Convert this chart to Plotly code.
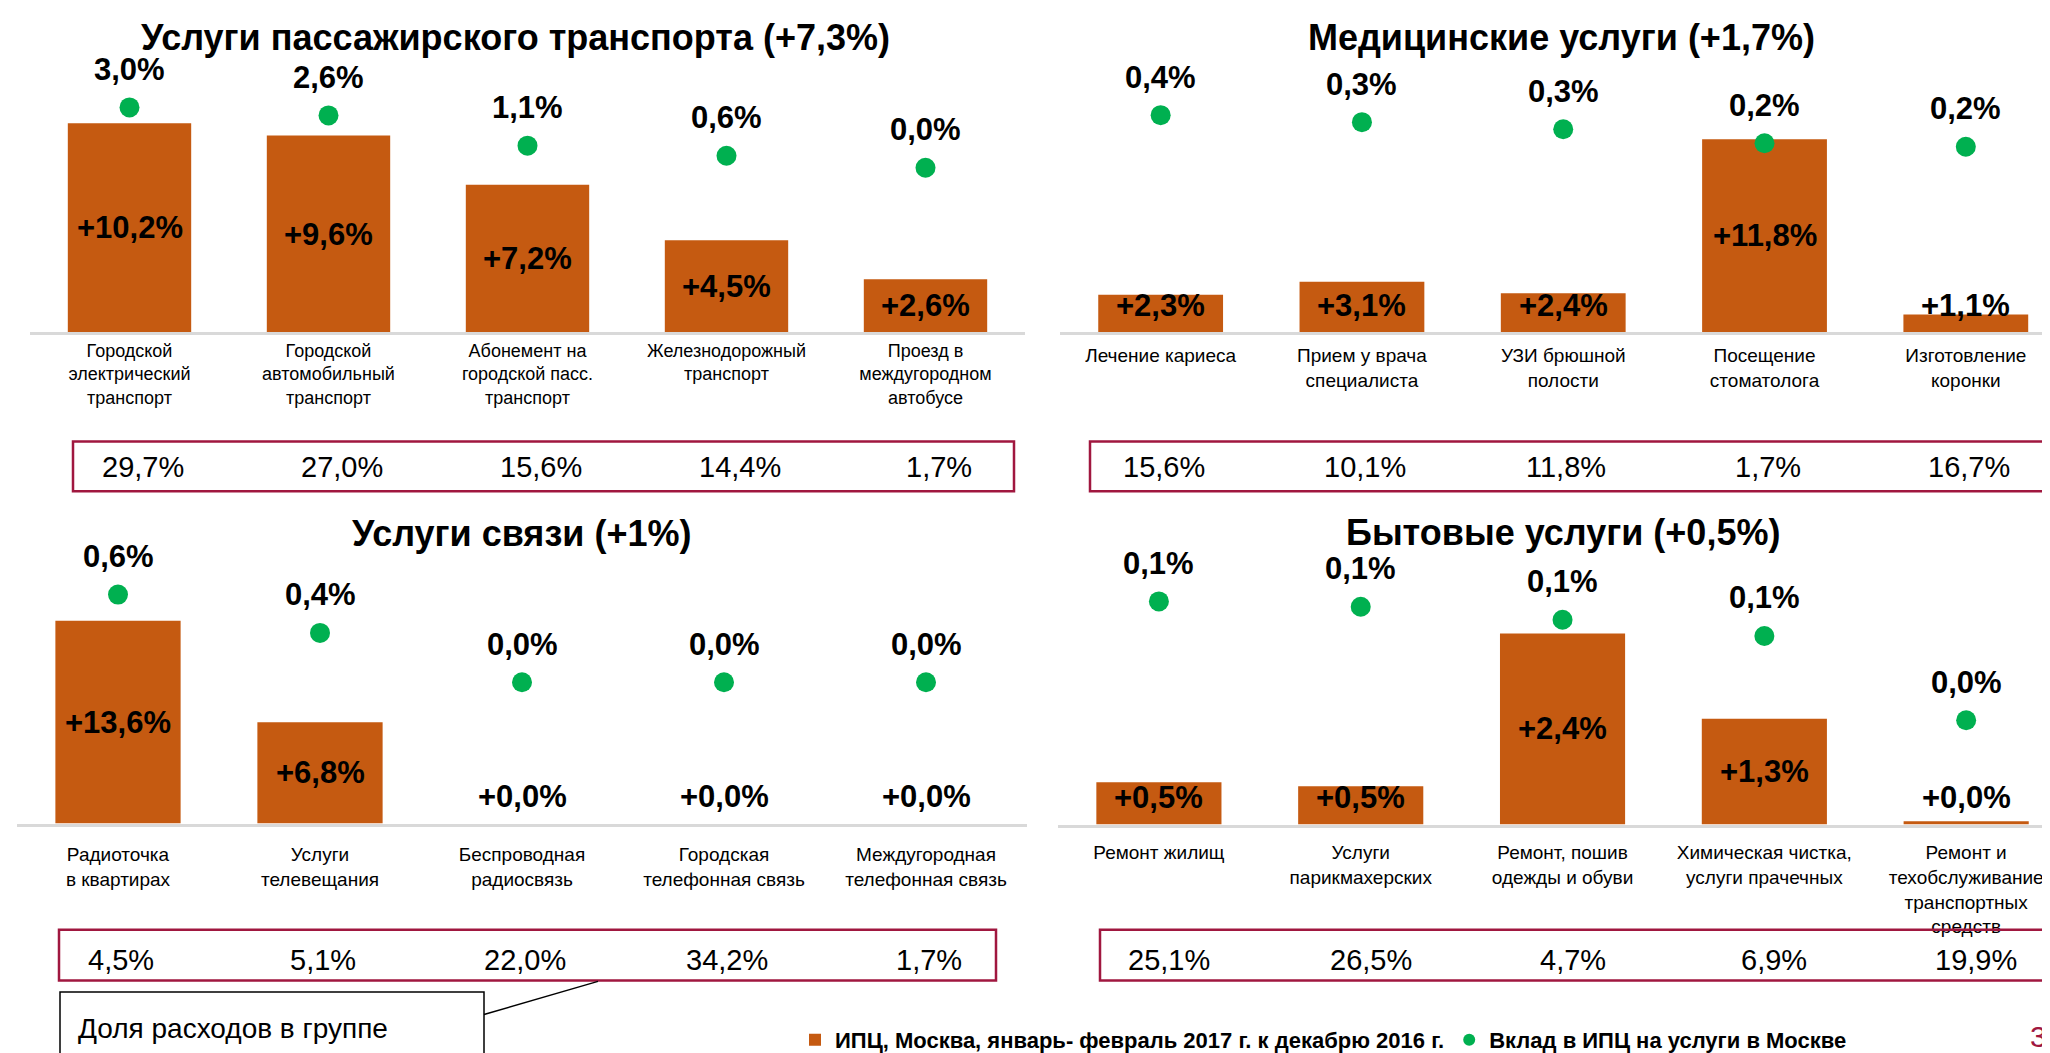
import plotly.graph_objects as go

# ---------------- data ----------------
transport_title = "Услуги пассажирского транспорта (+7,3%)"
transport_cats = ["Городской<br>электрический<br>транспорт", "Городской<br>автомобильный<br>транспорт",
                  "Абонемент на<br>городской пасс.<br>транспорт", "Железнодорожный<br>транспорт",
                  "Проезд в<br>междугородном<br>автобусе"]
transport_price = [10.2, 9.6, 7.2, 4.5, 2.6]
transport_contrib = [3.0, 2.6, 1.1, 0.6, 0.0]
transport_share = [29.7, 27.0, 15.6, 14.4, 1.7]

medical_title = "Медицинские услуги (+1,7%)"
medical_cats = ["Лечение кариеса", "Прием у врача<br>специалиста", "УЗИ брюшной<br>полости",
                "Посещение<br>стоматолога", "Изготовление<br>коронки"]
medical_price = [2.3, 3.1, 2.4, 11.8, 1.1]
medical_contrib = [0.38, 0.34, 0.30, 0.22, 0.20]
medical_share = [15.6, 10.1, 11.8, 1.7, 16.7]

comm_title = "Услуги связи (+1%)"
comm_cats = ["Радиоточка<br>в квартирах", "Услуги<br>телевещания", "Беспроводная<br>радиосвязь",
             "Городская<br>телефонная связь", "Междугородная<br>телефонная связь"]
comm_price = [13.6, 6.8, 0.0, 0.0, 0.0]
comm_contrib = [0.64, 0.36, 0.0, 0.0, 0.0]
comm_share = [4.5, 5.1, 22.0, 34.2, 1.7]

house_title = "Бытовые услуги (+0,5%)"
house_cats = ["Ремонт жилищ", "Услуги<br>парикмахерских", "Ремонт, пошив<br>одежды и обуви",
              "Химическая чистка,<br>услуги прачечных",
              "Ремонт и<br>техобслуживание<br>транспортных<br>средств"]
house_price = [0.53, 0.48, 2.4, 1.33, 0.04]
house_contrib = [0.12, 0.115, 0.103, 0.088, 0.01]
house_share = [25.1, 26.5, 4.7, 6.9, 19.9]

legend_bar = "ИПЦ, Москва, январь- февраль 2017 г. к декабрю 2016 г."
legend_dot = "Вклад в ИПЦ на услуги в Москве"
callout_text = "Доля расходов в группе"
page_number = "3"

# ---------------- style ----------------
W, H = 2050, 1053
FONT = "Liberation Sans, Arial, sans-serif"
BAR_COLOR = "#C55A11"
DOT_COLOR = "#00B050"
BOX_COLOR = "#A0173F"
AXIS_COLOR = "#D9D9D9"


def fx(x):
    return x / W


def fy(y):
    return 1 - y / H


def fmt(v, plus=False):
    s = f"{v:.1f}".replace(".", ",") + "%"
    return ("+" + s) if plus else s


panels = [
    dict(title=transport_title, cats=transport_cats, price=transport_price, contrib=transport_contrib,
         share=transport_share, x0=22, x1=1017, xr=[-0.5, 4.5], base=333, top=0, ppu=21.05,
         dref=(3.0, 102, 20.67), tfs=18, stand=0, title_xy=(507, 30), tsize=36,
         box=(65, 1006, 445, 496), share_dx=13, share_y=471),
    dict(title=medical_title, cats=medical_cats, price=medical_price, contrib=medical_contrib,
         share=medical_share, x0=1052, x1=2050, xr=[-0.5, 4.458], base=333, top=0, ppu=16.8,
         dref=(0.38, 110, 180.0), tfs=19, stand=4, title_xy=(1553, 30), tsize=36,
         box=(1082, 2040, 445, 496), share_dx=3, share_y=471),
    dict(title=comm_title, cats=comm_cats, price=comm_price, contrib=comm_contrib,
         share=comm_share, x0=9, x1=1019, xr=[-0.5, 4.5], base=837, top=500, ppu=15.3,
         dref=(0.0, 692, 140.6), tfs=19, stand=12, title_xy=(513, 539), tsize=36,
         box=(51, 988, 946, 998), share_dx=3, share_y=977),
    dict(title=house_title, cats=house_cats, price=house_price, contrib=house_contrib,
         share=house_share, x0=1050, x1=2050, xr=[-0.5, 4.455], base=838, top=500, ppu=81.7,
         dref=(0.12, 609, 1109.0), tfs=19, stand=9, title_xy=(1555, 538), tsize=36,
         box=(1092, 2046, 946, 998), share_dx=10, share_y=977),
]

fig = go.Figure()
annotations = []
shapes = []
layout_axes = {}

for p, P in enumerate(panels):
    xn = "" if p == 0 else str(p + 1)
    yb = "" if p == 0 else str(2 * p + 1)
    yd = str(2 * p + 2)
    xref = "x" + xn
    ybref = "y" + yb
    ydref = "y" + yd
    idx = list(range(len(P["cats"])))

    fig.add_trace(go.Bar(x=idx, y=P["price"], xaxis=xref, yaxis=ybref,
                         marker=dict(color=BAR_COLOR, line=dict(width=0)),
                         name=legend_bar, showlegend=(p == 0), hoverinfo="skip"))
    fig.add_trace(go.Scatter(x=idx, y=P["contrib"], xaxis=xref, yaxis=ydref, mode="markers",
                             marker=dict(color=DOT_COLOR, size=20),
                             name=legend_dot, showlegend=(p == 0), hoverinfo="skip"))

    span = P["base"] - P["top"]
    bar_range = [0, span / P["ppu"]]
    v_ref, y_ref, k = P["dref"]
    dot_range = [v_ref - (P["base"] - y_ref) / k, v_ref + (y_ref - P["top"]) / k]
    ydom = [fy(P["base"]), fy(P["top"])]

    layout_axes["xaxis" + xn] = dict(domain=[fx(P["x0"]), fx(P["x1"])], range=P["xr"], anchor=ybref,
                                     tickmode="array", tickvals=idx, ticktext=P["cats"],
                                     tickfont=dict(family=FONT, size=P["tfs"], color="#000000"),
                                     ticklabelstandoff=P["stand"],
                                     showline=True, linecolor=AXIS_COLOR, linewidth=3,
                                     showgrid=False, zeroline=False, ticks="", fixedrange=True)
    layout_axes["yaxis" + yb] = dict(domain=ydom, range=bar_range, anchor=xref, visible=False,
                                     showgrid=False, zeroline=False)
    layout_axes["yaxis" + yd] = dict(domain=ydom, range=dot_range, anchor=xref, overlaying=ybref,
                                     visible=False, showgrid=False, zeroline=False)

    thresh = 28 / P["ppu"]
    for i, v in enumerate(P["price"]):
        annotations.append(dict(x=i, y=max(v / 2, thresh), xref=xref, yref=ybref, text="<b>" + fmt(v, True) + "</b>",
                                showarrow=False, font=dict(family=FONT, size=31, color="#000000"),
                                xanchor="center", yanchor="middle"))
    for i, v in enumerate(P["contrib"]):
        annotations.append(dict(x=i, y=v, xref=xref, yref=ydref, yshift=38, text="<b>" + fmt(v) + "</b>",
                                showarrow=False, font=dict(family=FONT, size=31, color="#000000"),
                                xanchor="center", yanchor="middle"))
    for i, v in enumerate(P["share"]):
        annotations.append(dict(x=i, y=fy(P["share_y"]), xref=xref, yref="paper", xshift=P["share_dx"],
                                text=fmt(v), showarrow=False,
                                font=dict(family=FONT, size=29, color="#000000"),
                                xanchor="center", yanchor="middle"))
    tx, ty = P["title_xy"]
    annotations.append(dict(x=fx(tx), y=fy(ty), xref="paper", yref="paper", text="<b>" + P["title"] + "</b>",
                            showarrow=False, font=dict(family=FONT, size=P["tsize"], color="#000000"),
                            xanchor="center", yanchor="middle"))
    bx0, bx1, by0, by1 = P["box"]
    shapes.append(dict(type="rect", xref="paper", yref="paper", x0=fx(bx0), x1=fx(bx1), y0=fy(by1), y1=fy(by0),
                       line=dict(color=BOX_COLOR, width=2.5), fillcolor="rgba(0,0,0,0)"))

# callout
shapes.append(dict(type="rect", xref="paper", yref="paper", x0=fx(52), x1=fx(476), y0=fy(1075), y1=fy(1010),
                   line=dict(color="#000000", width=1.5), fillcolor="white"))
shapes.append(dict(type="line", xref="paper", yref="paper", x0=fx(476), y0=fy(1033), x1=fx(590), y1=fy(999),
                   line=dict(color="#000000", width=1.5)))
annotations.append(dict(x=fx(68), y=fy(1047), xref="paper", yref="paper", text=callout_text, showarrow=False,
                        font=dict(family=FONT, size=28, color="#000000"), xanchor="left", yanchor="middle"))
annotations.append(dict(x=fx(2030), y=fy(1056), xref="paper", yref="paper", text=page_number, showarrow=False,
                        font=dict(family=FONT, size=30, color=BOX_COLOR), xanchor="center", yanchor="middle"))

fig.update_layout(
    width=W, height=H, margin=dict(l=0, r=0, t=0, b=0),
    paper_bgcolor="white", plot_bgcolor="white",
    bargap=0.38, showlegend=True,
    legend=dict(orientation="h", x=fx(787), y=fy(1059), xanchor="left", yanchor="middle",
                font=dict(family=FONT, size=22, color="#000000", weight="bold"),
                itemsizing="constant", bgcolor="rgba(0,0,0,0)"),
    annotations=annotations, shapes=shapes,
    **layout_axes,
)

fig.write_html("out.html")
